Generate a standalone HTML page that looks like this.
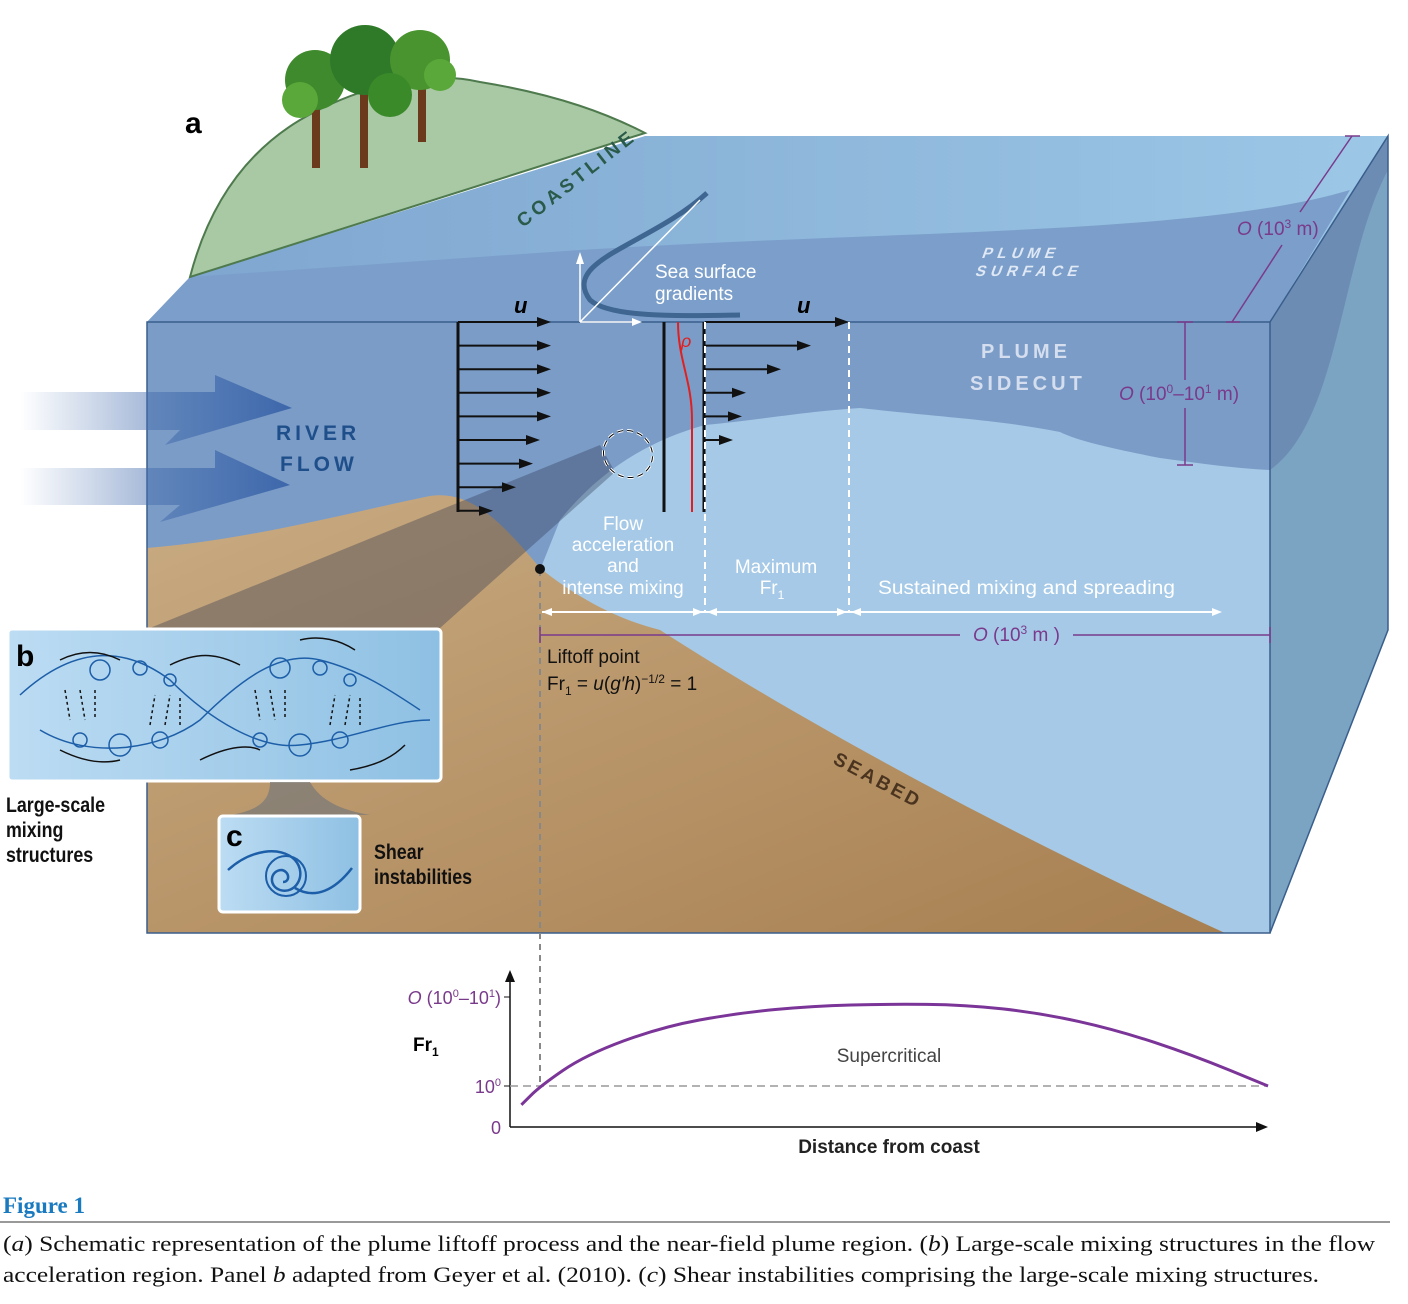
<!DOCTYPE html>
<html><head><meta charset="utf-8"><style>
body{margin:0;background:#fff;}
svg{display:block;font-family:"Liberation Sans",sans-serif;}
</style></head><body>
<svg width="1408" height="1304" viewBox="0 0 1408 1304">
<defs>
<linearGradient id="riverG" x1="0" x2="1"><stop offset="0" stop-color="#4a72b0" stop-opacity="0"/><stop offset="1" stop-color="#3d67ab"/></linearGradient>
<linearGradient id="topG" x1="0" x2="1"><stop offset="0" stop-color="#7ea5cf"/><stop offset="1" stop-color="#9cc7e6"/></linearGradient>
<linearGradient id="bedG" x1="0" x2="1" y1="0" y2="1"><stop offset="0" stop-color="#c9ab82"/><stop offset="1" stop-color="#a77f50"/></linearGradient>
<linearGradient id="panelG" x1="0" x2="1"><stop offset="0" stop-color="#bcdcf3"/><stop offset="1" stop-color="#8ec0e3"/></linearGradient>
</defs>

<polygon points="147,322 1270,322 1388,136 645,136 190,277" fill="url(#topG)"/>
<path d="M147,322 L1270,322 L1350,190 C1200,235 900,230 580,250 L190,277 Z" fill="#7b9fca"/>
<polygon points="1270,322 1388,136 1388,630 1270,933" fill="#7aa4c2"/>
<path d="M1270,322 L1388,136 L1388,170 C1340,260 1340,420 1270,470 Z" fill="#6d8cb4"/>
<rect x="147" y="322" width="1123" height="611" fill="#a5c9e6"/>
<path d="M147,322 L1270,322 L1270,470 C1230,468 1190,462 1160,458 C1120,450 1080,442 1060,432 C1000,420 950,418 860,408 C800,412 760,420 705,425 C650,440 600,470 560,520 L540,570 L147,570 Z" fill="#7b9cc7"/>
<path d="M147,548 C250,540 360,510 430,496 C470,490 500,520 540,568 C580,600 620,620 660,630 C800,720 1000,830 1225,933 L147,933 Z" fill="url(#bedG)"/>
<polygon points="150,628 440,628 615,472 600,445" fill="#2a3550" opacity="0.35"/>
<rect x="147" y="322" width="1123" height="611" fill="none" stroke="#3a5e8c" stroke-width="1.5"/>
<polyline points="1270,322 1388,136 1388,630 1270,933" fill="none" stroke="#3a5e8c" stroke-width="1.5"/>

<path d="M190,277 C210,200 250,150 300,120 C360,85 430,70 480,82 C560,95 610,115 645,133 Z" fill="#a9c9a4" stroke="#4e7a4e" stroke-width="2"/>
<g>
<rect x="312" y="90" width="8" height="78" fill="#6b3a1c"/><rect x="360" y="80" width="8" height="88" fill="#6b3a1c"/><rect x="418" y="80" width="8" height="62" fill="#6b3a1c"/>
<circle cx="315" cy="80" r="30" fill="#3f8a2c"/><circle cx="365" cy="60" r="35" fill="#2f7a28"/><circle cx="420" cy="60" r="30" fill="#4a9430"/>
<circle cx="300" cy="100" r="18" fill="#5aa83a"/><circle cx="390" cy="95" r="22" fill="#3a8a2a"/><circle cx="440" cy="75" r="16" fill="#5aa83a"/>
</g>
<text x="523" y="228" transform="rotate(-38 523 228)" font-size="19" font-weight="bold" letter-spacing="4" fill="#2a5a4a">COASTLINE</text>
<text x="185" y="133" font-size="30" font-weight="bold">a</text>

<polygon points="20,392 215,392 215,375 292,408 165,445 180,430 20,430" fill="url(#riverG)"/>
<polygon points="20,468 215,468 215,450 290,485 160,522 180,505 20,505" fill="url(#riverG)"/>
<text font-size="21" font-weight="bold" letter-spacing="4" fill="#1f4f8a"><tspan x="276" y="440">RIVER</tspan><tspan x="280" y="471">FLOW</tspan></text>

<path d="M707,193 C650,245 560,260 590,300 C610,318 680,316 740,315" fill="none" stroke="#3e6690" stroke-width="5"/>
<line x1="580" y1="322" x2="580" y2="256" stroke="#fff" stroke-width="1.5"/><polygon points="580,252 576,264 584,264" fill="#fff"/>
<line x1="580" y1="322" x2="636" y2="322" stroke="#fff" stroke-width="1.5"/><polygon points="642,322 632,318 632,326" fill="#fff"/>
<line x1="580" y1="322" x2="700" y2="200" stroke="#fff" stroke-width="1.5"/>
<text font-size="19" fill="#fff"><tspan x="655" y="278">Sea surface</tspan><tspan x="655" y="300">gradients</tspan></text>
<text font-size="15" font-weight="bold" letter-spacing="5" fill="#dfe8f4" transform="skewX(-20) translate(90 0)"><tspan x="985" y="258">PLUME</tspan><tspan x="985" y="276">SURFACE</tspan></text>
<text font-size="20" font-weight="bold" letter-spacing="4" fill="#d4deee"><tspan x="981" y="358">PLUME</tspan><tspan x="970" y="390">SIDECUT</tspan></text>

<g id="profiles"></g>
<text x="514" y="313" font-size="22" font-weight="bold" font-style="italic">u</text>
<text x="797" y="313" font-size="22" font-weight="bold" font-style="italic">u</text>
<line x1="664" y1="322" x2="664" y2="512" stroke="#111" stroke-width="3"/>
<path d="M678,322 C678,360 692,380 692,420 L692,512" fill="none" stroke="#e02020" stroke-width="2"/>
<text x="681" y="347" font-size="18" font-style="italic" fill="#e02020">ρ</text>
<ellipse cx="628" cy="454" rx="25" ry="23" transform="rotate(30 628 454)" fill="none" stroke="#fff" stroke-width="3" stroke-dasharray="6 4"/>
<ellipse cx="628" cy="454" rx="25" ry="23" transform="rotate(30 628 454)" fill="none" stroke="#000" stroke-width="1" stroke-dasharray="6 4"/>

<line x1="705" y1="322" x2="705" y2="612" stroke="#fff" stroke-width="2" stroke-dasharray="7 5"/>
<line x1="849" y1="322" x2="849" y2="612" stroke="#fff" stroke-width="2" stroke-dasharray="7 5"/>
<line x1="540" y1="570" x2="540" y2="1085" stroke="#888" stroke-width="2" stroke-dasharray="6 5"/>
<circle cx="540" cy="569" r="5" fill="#111"/>
<line x1="542" y1="612" x2="1215" y2="612" stroke="#fff" stroke-width="2"/>
<polygon points="542,612 552,608 552,616" fill="#fff"/><polygon points="703,612 693,608 693,616" fill="#fff"/><polygon points="707,612 717,608 717,616" fill="#fff"/><polygon points="847,612 837,608 837,616" fill="#fff"/><polygon points="851,612 861,608 861,616" fill="#fff"/><polygon points="1222,612 1212,608 1212,616" fill="#fff"/>
<text font-size="19" fill="#fff" text-anchor="middle"><tspan x="623" y="530">Flow</tspan><tspan x="623" y="551">acceleration</tspan><tspan x="623" y="572">and</tspan><tspan x="623" y="594">intense mixing</tspan></text>
<text font-size="19" fill="#fff" text-anchor="middle"><tspan x="776" y="573">Maximum</tspan><tspan x="772" y="594">Fr<tspan font-size="12" dy="5">1</tspan></tspan></text>
<text x="878" y="594" font-size="19" fill="#fff" textLength="297" lengthAdjust="spacingAndGlyphs">Sustained mixing and spreading</text>

<g stroke="#7a3a8c" stroke-width="1.5" fill="none">
<line x1="540" y1="635" x2="960" y2="635"/><line x1="1073" y1="635" x2="1270" y2="635"/><line x1="540" y1="627" x2="540" y2="643"/><line x1="1270" y1="627" x2="1270" y2="643"/>
<line x1="1185" y1="322" x2="1185" y2="380"/><line x1="1185" y1="408" x2="1185" y2="465"/><line x1="1177" y1="322" x2="1193" y2="322"/><line x1="1177" y1="465" x2="1193" y2="465"/>
<line x1="1232" y1="322" x2="1282" y2="245"/><line x1="1300" y1="212" x2="1352" y2="136"/><line x1="1226" y1="322" x2="1240" y2="322"/><line x1="1345" y1="136" x2="1360" y2="136"/>
</g>
<text x="973" y="641" font-size="19" fill="#7a3a8c"><tspan font-style="italic">O</tspan> (10<tspan font-size="12" dy="-7">3</tspan><tspan dy="7"> m )</tspan></text>
<text x="1119" y="400" font-size="19" fill="#7a3a8c"><tspan font-style="italic">O</tspan> (10<tspan font-size="12" dy="-7">0</tspan><tspan dy="7">–10</tspan><tspan font-size="12" dy="-7">1</tspan><tspan dy="7"> m)</tspan></text>
<text x="1237" y="235" font-size="19" fill="#7a3a8c"><tspan font-style="italic">O</tspan> (10<tspan font-size="12" dy="-7">3</tspan><tspan dy="7"> m)</tspan></text>

<text font-size="19" fill="#111"><tspan x="547" y="663">Liftoff point</tspan><tspan x="547" y="690">Fr<tspan font-size="12" dy="5">1</tspan><tspan dy="-5"> = </tspan><tspan font-style="italic">u</tspan>(<tspan font-style="italic">g′h</tspan>)<tspan font-size="12" dy="-7">−1/2</tspan><tspan dy="7"> = 1</tspan></tspan></text>
<text x="832" y="763" transform="rotate(28 832 763)" font-size="19" font-weight="bold" letter-spacing="3" fill="#4a3420">SEABED</text>

<rect x="8" y="629" width="433" height="152" rx="4" fill="url(#panelG)" stroke="#fff" stroke-width="3"/>
<text x="16" y="666" font-size="30" font-weight="bold">b</text>
<g fill="none" stroke="#1d5ea8" stroke-width="1.5">
<path d="M20,695 C80,640 130,650 170,680 C210,720 260,750 300,745 C350,740 390,720 430,720"/>
<path d="M40,730 C90,760 160,750 200,720 C240,680 280,650 320,660 C360,670 390,690 420,710"/>
<circle cx="100" cy="670" r="10"/><circle cx="140" cy="668" r="7"/><circle cx="170" cy="680" r="6"/><circle cx="80" cy="740" r="7"/><circle cx="120" cy="745" r="11"/><circle cx="160" cy="740" r="8"/>
<circle cx="280" cy="668" r="10"/><circle cx="320" cy="668" r="7"/><circle cx="350" cy="680" r="6"/><circle cx="260" cy="740" r="7"/><circle cx="300" cy="745" r="11"/><circle cx="340" cy="740" r="8"/>
<path d="M60,660 C80,650 100,650 120,660" stroke="#111"/><path d="M170,665 C200,650 220,655 240,665" stroke="#111"/><path d="M60,750 C80,760 100,765 120,760" stroke="#111"/><path d="M200,760 C230,745 250,745 260,750" stroke="#111"/><path d="M300,640 C320,635 340,640 355,650" stroke="#111"/><path d="M350,770 C380,765 395,755 405,745" stroke="#111"/>
<g stroke="#111" stroke-dasharray="3 3"><line x1="65" y1="690" x2="70" y2="720"/><line x1="80" y1="690" x2="85" y2="720"/><line x1="95" y1="690" x2="95" y2="720"/><line x1="150" y1="725" x2="155" y2="695"/><line x1="165" y1="725" x2="170" y2="695"/><line x1="180" y1="725" x2="180" y2="695"/><line x1="255" y1="690" x2="260" y2="720"/><line x1="270" y1="690" x2="275" y2="720"/><line x1="285" y1="690" x2="285" y2="720"/><line x1="330" y1="725" x2="335" y2="695"/><line x1="345" y1="725" x2="350" y2="695"/><line x1="360" y1="725" x2="360" y2="695"/></g>
</g>
<path d="M270,782 L310,782 C320,800 340,810 370,815 L230,815 C260,810 270,800 270,782 Z" fill="#777" opacity="0.7"/>
<text font-size="21" font-weight="bold" fill="#111" transform="scale(0.85 1)"><tspan x="7" y="812">Large-scale</tspan><tspan x="7" y="837">mixing</tspan><tspan x="7" y="862">structures</tspan></text>
<rect x="219" y="816" width="141" height="96" rx="4" fill="url(#panelG)" stroke="#fff" stroke-width="3"/>
<text x="226" y="846" font-size="30" font-weight="bold">c</text>
<path d="M228,870 C250,850 280,845 295,860 C308,875 295,895 280,890 C268,886 270,870 282,870 C290,872 290,882 283,882 M295,888 C315,900 335,890 352,868" fill="none" stroke="#1d5ea8" stroke-width="2.5"/>
<circle cx="286" cy="876" r="20" fill="none" stroke="#1d5ea8" stroke-width="2"/>
<text font-size="21" font-weight="bold" fill="#111" transform="scale(0.85 1)"><tspan x="440" y="859">Shear</tspan><tspan x="440" y="884">instabilities</tspan></text>

<g id="chart">
<line x1="510" y1="1127" x2="1260" y2="1127" stroke="#111" stroke-width="1.5"/>
<polygon points="1268,1127 1256,1122 1256,1132" fill="#111"/>
<line x1="510" y1="1127" x2="510" y2="978" stroke="#111" stroke-width="1.5"/>
<polygon points="510,970 505,982 515,982" fill="#111"/>
<line x1="510" y1="1086" x2="1268" y2="1086" stroke="#999" stroke-width="1.5" stroke-dasharray="8 5"/>
<line x1="504" y1="1086" x2="510" y2="1086" stroke="#111"/><line x1="504" y1="997" x2="510" y2="997" stroke="#111"/>
<text x="501" y="1093" font-size="18" fill="#7a3a8c" text-anchor="end">10<tspan font-size="11" dy="-7">0</tspan></text>
<text x="501" y="1134" font-size="18" fill="#7a3a8c" text-anchor="end">0</text>
<text x="501" y="1004" font-size="18" fill="#7a3a8c" text-anchor="end"><tspan font-style="italic">O</tspan> (10<tspan font-size="11" dy="-7">0</tspan><tspan dy="7">–10</tspan><tspan font-size="11" dy="-7">1</tspan><tspan dy="7">)</tspan></text>
<text x="413" y="1051" font-size="19" font-weight="bold">Fr<tspan font-size="12" dy="5">1</tspan></text>
<text x="889" y="1153" font-size="19" font-weight="bold" text-anchor="middle" fill="#222">Distance from coast</text>
<text x="889" y="1062" font-size="19" text-anchor="middle" fill="#444">Supercritical</text>
</g>

<text x="3" y="1213" font-family="Liberation Serif,serif" font-size="23" font-weight="bold" fill="#1a7ac0">Figure 1</text>
<line x1="0" y1="1222" x2="1390" y2="1222" stroke="#333" stroke-width="1"/>
<text x="3" y="1251" font-family="Liberation Serif,serif" font-size="22" fill="#111" textLength="1372" lengthAdjust="spacingAndGlyphs">(<tspan font-style="italic">a</tspan>) Schematic representation of the plume liftoff process and the near-field plume region. (<tspan font-style="italic">b</tspan>) Large-scale mixing structures in the flow</text>
<text x="3" y="1282" font-family="Liberation Serif,serif" font-size="22" fill="#111" textLength="1316" lengthAdjust="spacingAndGlyphs">acceleration region. Panel <tspan font-style="italic">b</tspan> adapted from Geyer et al. (2010). (<tspan font-style="italic">c</tspan>) Shear instabilities comprising the large-scale mixing structures.</text>
</svg>
<script>
const distance = [0.015, 0.04, 0.1, 0.2, 0.3, 0.4, 0.5, 0.6, 0.7, 0.8, 0.9, 1.0];
const froude = [0.54, 1.0, 1.76, 2.44, 2.78, 2.95, 3.0, 2.98, 2.78, 2.37, 1.76, 1.0];
const leftDepths = [0, 1, 2, 3, 4, 5, 6, 7, 8];
const leftSpeeds = [93, 93, 93, 93, 93, 82, 75, 58, 35];
const rightDepths = [0, 1, 2, 3, 4, 5];
const rightSpeeds = [144, 106, 76, 41, 37, 28];

const NS = 'http://www.w3.org/2000/svg';
const xS = d => 510 + d * 758;
const yS = f => 1127 - f * 41;
const dY = k => 322 + k * 23.6;

const chart = document.getElementById('chart');
const p = document.createElementNS(NS, 'path');


let d = '';
for (let i = 0; i < distance.length; i++) {
  const x = xS(distance[i]), y = yS(froude[i]);
  if (i === 0) d += 'M' + x + ',' + y;
  else {
    const px = xS(distance[i-1]), py = yS(froude[i-1]);
    d += ' Q' + px + ',' + py + ' ' + ((px + x) / 2) + ',' + ((py + y) / 2);
  }
}
d += ' L' + xS(distance[distance.length-1]) + ',' + yS(froude[froude.length-1]);
p.setAttribute('d', d);
p.setAttribute('fill', 'none');
p.setAttribute('stroke', '#7b3598');
p.setAttribute('stroke-width', '3');
chart.appendChild(p);

const prof = document.getElementById('profiles');
function arrow(x0, y, len, name) {
  const g = document.createElementNS(NS, 'g');
  
  
  const l = document.createElementNS(NS, 'line');
  l.setAttribute('x1', x0); l.setAttribute('y1', y);
  l.setAttribute('x2', x0 + len - 8); l.setAttribute('y2', y);
  l.setAttribute('stroke', '#111'); l.setAttribute('stroke-width', '2');
  const h = document.createElementNS(NS, 'polygon');
  const xe = x0 + len;
  h.setAttribute('points', xe + ',' + y + ' ' + (xe - 14) + ',' + (y - 5) + ' ' + (xe - 14) + ',' + (y + 5));
  h.setAttribute('fill', '#111');
  g.appendChild(l); g.appendChild(h);
  prof.appendChild(g);
}
leftDepths.forEach((k, i) => arrow(458, dY(k), leftSpeeds[i], 'left-velocity-arrow'));
rightDepths.forEach((k, i) => arrow(705, dY(k), rightSpeeds[i], 'right-velocity-arrow'));
const s1 = document.createElementNS(NS, 'line');


s1.setAttribute('x1', 458); s1.setAttribute('y1', 322); s1.setAttribute('x2', 458); s1.setAttribute('y2', 512);
s1.setAttribute('stroke', '#111'); s1.setAttribute('stroke-width', '3');
prof.appendChild(s1);
const s2 = document.createElementNS(NS, 'line');


s2.setAttribute('x1', 704); s2.setAttribute('y1', 322); s2.setAttribute('x2', 704); s2.setAttribute('y2', 512);
s2.setAttribute('stroke', '#111'); s2.setAttribute('stroke-width', '3');
prof.appendChild(s2);
</script>
</body></html>
